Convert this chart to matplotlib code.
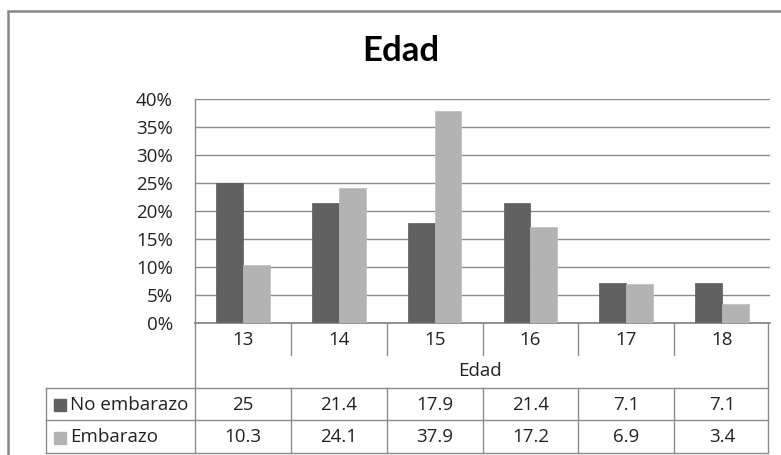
import matplotlib
matplotlib.use("Agg")
import matplotlib.pyplot as plt
from matplotlib.lines import Line2D
from matplotlib.patches import Rectangle
from matplotlib.ticker import FuncFormatter
import numpy as np

plt.rcParams['font.family'] = ['Open Sans', 'DejaVu Sans']

title = "Edad"
axis_title = "Edad"
categories = ["13", "14", "15", "16", "17", "18"]
series_names = ["No embarazo", "Embarazo"]
no_embarazo = [25, 21.4, 17.9, 21.4, 7.1, 7.1]
embarazo = [10.3, 24.1, 37.9, 17.2, 6.9, 3.4]
table_labels_no = ["25", "21.4", "17.9", "21.4", "7.1", "7.1"]
table_labels_emb = ["10.3", "24.1", "37.9", "17.2", "6.9", "3.4"]

W, H = 781, 455
fig = plt.figure(figsize=(W / 100, H / 100), dpi=100)

def fx(px):
    return px / W

def fy(py):
    return 1 - py / H

dark = "#616161"
light = "#b3b3b3"
grid_c = "#8c8c8c"
line_c = "#8c8c8c"
text_c = "#222222"
fs = 13.5

# outer chart frame
frame = Rectangle((fx(8), fy(470)), fx(800) - fx(8), fy(11) - fy(470),
                  transform=fig.transFigure, fill=False, edgecolor="#888888",
                  linewidth=1.8)
fig.add_artist(frame)

# plot area
left, right, top, bottom = 195, 770, 99, 323
ax = fig.add_axes([fx(left), fy(bottom), fx(right) - fx(left), fy(top) - fy(bottom)])

x = np.arange(len(categories))
bw = 0.28
ax.bar(x - bw / 2, no_embarazo, width=bw, color=dark, edgecolor="#5a5a5a", linewidth=0.5, zorder=3)
ax.bar(x + bw / 2, embarazo, width=bw, color=light, edgecolor="#bdbdbd", linewidth=0.5, zorder=3)

ax.set_xlim(-0.5, len(categories) - 0.5)
ax.set_ylim(0, 40)
ax.set_yticks(np.arange(0, 41, 5))
ax.yaxis.set_major_formatter(FuncFormatter(lambda v, p: f"{int(v)}%"))
ax.tick_params(axis="y", length=0, pad=16, labelsize=fs, labelcolor=text_c)
ax.set_xticks([])
ax.grid(axis="y", color=grid_c, linewidth=1.0, zorder=0)
for s in ["top", "right"]:
    ax.spines[s].set_visible(False)
ax.spines["left"].set_color(line_c)
ax.spines["bottom"].set_color("#808080")
ax.spines["left"].set_linewidth(1.0)
ax.spines["bottom"].set_linewidth(1.2)

fig.text(fx(401), fy(51), title, ha="center", va="center",
         fontsize=25, fontweight="bold", color="black", family=["Lato", "DejaVu Sans"])

# data table under the axis
blend = matplotlib.transforms.blended_transform_factory(ax.transData, fig.transFigure)

def hline(x0, x1, y, lw=1.0):
    fig.add_artist(Line2D([fx(x0), fx(x1)], [fy(y), fy(y)], transform=fig.transFigure,
                          color=line_c, linewidth=lw))

def vline(xp, y0, y1, lw=1.0):
    fig.add_artist(Line2D([fx(xp), fx(xp)], [fy(y0), fy(y1)], transform=fig.transFigure,
                          color=line_c, linewidth=lw))

tbl_left, tbl_right = 46, 768
row_cat, row_axis, row1, row2, row_end = 323, 355, 388, 420, 453

vline(left, row_cat, row_end)
vline(tbl_right, row_cat, row_end)
vline(tbl_left, row1, row_end)
hline(tbl_left, tbl_right, row1)
hline(tbl_left, tbl_right, row2)
hline(tbl_left, tbl_right, row_end)

for b in x[:-1] + 0.5:
    ax_px = left + (b + 0.5) / len(categories) * (right - left)
    vline(ax_px, row_cat, row_axis)
    vline(ax_px, row1, row_end)

for i, c in enumerate(categories):
    fig.text(i, fy((row_cat + row_axis) / 2 + 1), c, transform=blend, ha="center",
             va="center", fontsize=fs, color=text_c)
    fig.text(i, fy((row1 + row2) / 2 + 1), table_labels_no[i], transform=blend,
             ha="center", va="center", fontsize=fs, color=text_c)
    fig.text(i, fy((row2 + row_end) / 2 + 1), table_labels_emb[i], transform=blend,
             ha="center", va="center", fontsize=fs, color=text_c)

fig.text(fx((left + tbl_right) / 2 - 2), fy((row_axis + row1) / 2), axis_title,
         ha="center", va="center", fontsize=fs, color=text_c)

# legend keys in the header column
for (r0, r1), name, col in [((row1, row2), series_names[0], dark),
                            ((row2, row_end), series_names[1], light)]:
    cy = (r0 + r1) / 2 + 1
    fig.add_artist(Rectangle((fx(54), fy(cy + 6)), fx(12), fy(0) - fy(12),
                             transform=fig.transFigure, color=col))
    fig.text(fx(70), fy(cy), name, ha="left", va="center", fontsize=fs, color=text_c)

fig.savefig("out.png", dpi=100)
